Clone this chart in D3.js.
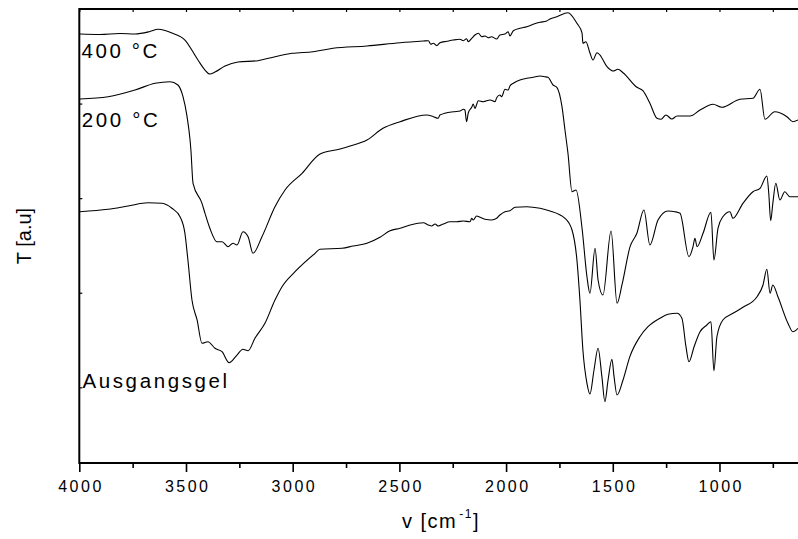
<!DOCTYPE html>
<html>
<head>
<meta charset="utf-8">
<script src="https://cdn.jsdelivr.net/npm/d3@7/dist/d3.min.js"></script>
<style>
  html, body { margin: 0; padding: 0; background: #fff; }
  svg { display: block; }
  text { font-family: "Liberation Sans", Arial, sans-serif; fill: #000; }
</style>
</head>
<body>
<svg id="chart" width="798" height="539"></svg>
<script>
// ---------- data (wavenumber in cm^-1, transmittance in arbitrary units) ----------
const seriesNames = ["400 °C", "200 °C", "Ausgangsgel"];

const wn400 = [3997,3903,3809,3739,3669,3631,3598,3566,3505,3444,3411,3388,3364,3317,3256,3163,3083,3003,2905,2811,2652,2497,
  2388,2364,2353,2341,2325,2310,2278,2247,2216,2200,2185,2177,2161,2146,2130,2114,2099,2083,2068,2044,2029,2005,1990,1982,1966,1935,1903,1873,1841,1810,1794,
  1762,1710,1668,1644,1640,1626,1607,1593,1574,1560,1527,1499,1476,1452,1387,1359,1326,1293,1274,1251,1223,1199,1138,1091,1030,989,904,843,810,787,741,684,656,632];
const t400  = [94.71,94.61,94.82,94.71,95.24,95.71,95.45,94.92,93.44,89.22,87.10,86.25,86.68,87.95,88.79,89.07,89.91,90.63,90.97,91.69,92.18,92.87,
  93.23,93.30,92.54,92.75,92.24,92.87,93.17,93.44,93.59,93.30,93.72,93.09,93.80,94.50,94.86,94.14,94.29,93.93,94.14,93.66,94.50,94.71,95.20,94.29,95.41,95.92,96.26,96.76,97.19,97.46,97.89,
  98.37,99.22,96.98,94.92,92.75,93.09,90.70,89.22,90.76,90.27,87.80,86.89,87.25,86.53,83.44,82.72,80.06,76.89,76.68,77.59,76.74,77.37,77.37,78.64,79.85,79.21,80.91,81.12,83.02,76.68,78.28,77.23,76.17,76.53];

const wn200 = [3997,3865,3739,3645,3575,3538,3514,3495,3481,3477,3467,3425,3411,3388,3355,3331,3303,3280,3261,3233,3209,3186,3144,3083,3036,2956,2872,2778,2731,2652,2577,2497,
  2372,2341,2318,2310,2247,2216,2200,2193,2185,2177,2161,2154,2146,2130,2107,2075,2052,2044,2029,2021,2005,1990,1982,1966,1935,1903,1873,1841,1818,
  1804,1780,1762,1738,1724,1710,1691,1672,1644,1621,1607,1583,1569,1546,1508,1480,1457,1419,1387,1354,1326,1288,1241,1209,1185,1143,1124,1115,1105,1077,1040,1026,1007,984,951,937,890,843,810,778,769,760,750,736,717,694,670,632];
const t200  = [80.97,81.45,82.87,84.29,84.63,83.93,81.45,77.23,72.30,70.18,63.14,58.91,56.80,53.63,50.79,50.79,49.74,50.46,50.10,52.91,51.85,48.34,51.85,58.19,61.73,65.26,69.34,70.40,71.03,72.30,74.77,76.17,
  77.59,77.23,76.89,77.59,78.28,78.43,78.79,78.64,76.17,78.07,79.21,79.91,79.00,80.61,80.40,80.76,80.40,81.24,81.81,81.45,83.02,82.87,83.72,84.29,84.99,85.35,85.56,85.83,85.68,
  85.56,83.93,83.44,79.34,74.41,69.49,61.37,61.73,53.63,43.39,39.88,49.40,42.70,39.52,53.06,37.77,41.64,49.74,52.57,57.50,50.10,55.38,57.29,57.14,56.80,47.62,49.74,51.51,49.74,52.57,57.01,46.92,53.63,56.08,57.14,55.74,58.91,61.37,62.08,64.69,61.03,55.23,58.91,63.14,59.61,61.37,60.31,60.31];

const wnGel = [3997,3865,3772,3678,3612,3566,3528,3505,3491,3472,3448,3425,3397,3364,3331,3298,3261,3233,3209,3177,3130,3083,3050,2989,2895,2872,2769,2717,2652,2591,2544,2497,2450,
  2388,2364,2349,2333,2318,2294,2263,2232,2200,2169,2161,2154,2138,2122,2099,2068,2044,2029,2005,1982,1958,1903,1841,1798,
  1724,1691,1668,1654,1640,1621,1607,1588,1569,1551,1537,1522,1504,1494,1480,1452,1420,1373,1335,1279,1241,1199,1176,1157,1143,1119,1091,1059,1040,1026,1012,984,937,890,824,796,778,763,750,726,679,656,632];
const tGel  = [57.14,57.64,58.34,59.04,58.91,57.86,56.08,52.57,46.92,38.46,34.24,29.31,29.65,28.25,27.53,25.21,26.83,28.04,27.74,30.37,33.54,38.46,41.28,44.45,48.34,49.19,49.40,49.88,50.46,51.72,53.12,53.63,54.32,
  54.81,54.32,54.11,54.54,54.11,54.54,55.02,55.02,55.17,55.02,55.74,55.38,56.23,55.95,55.53,55.38,55.74,56.44,57.14,57.35,58.07,58.19,57.86,57.35,
  55.74,53.27,46.92,38.46,27.89,20.85,18.59,23.66,28.25,22.25,16.96,21.55,25.93,22.25,18.38,21.55,26.48,30.70,32.82,34.60,35.44,35.65,34.60,28.59,25.42,28.59,31.76,33.18,33.88,23.51,30.70,34.24,35.65,36.92,39.16,41.64,44.96,39.88,41.64,39.16,33.54,31.76,32.48];

const xMajorTicks = [4000, 3500, 3000, 2500, 2000, 1500, 1000];
const xMinorTicks = [3750, 3250, 2750, 2250, 1750, 1250, 750];
const yTicks = [20, 40, 60, 80];

// label anchors in data units (wavenumber, T)
const labelWn = [3990, 3988, 3985];
const labelT  = [89.6, 75.15, 19.86];

// ---------- drawing ----------
(function () {
const svg = d3.select("#chart");
const mLeft = 79.3, mRight = 798, mTop = 9, mBottom = 463;

const x = d3.scaleLinear().domain([4000, 632]).range([mLeft, mRight]);
const y = d3.scaleLinear().domain([4, 100]).range([mBottom, mTop]);

svg.append("defs").append("clipPath").attr("id", "clip")
  .append("rect").attr("x", mLeft).attr("y", mTop).attr("width", mRight - mLeft).attr("height", mBottom - mTop);

const series = [
  d3.zip(wn400, t400),
  d3.zip(wn200, t200),
  d3.zip(wnGel, tGel)
];

const line = d3.line().x(d => x(d[0])).y(d => y(d[1])).curve(d3.curveMonotoneX);

svg.append("g").attr("clip-path", "url(#clip)")
  .selectAll("path").data(series).join("path")
  .attr("d", line)
  .attr("fill", "none")
  .attr("stroke", "#000")
  .attr("stroke-width", 1.1)
  .attr("stroke-linejoin", "round");

// bottom axis: major ticks with labels
const gB = svg.append("g").attr("transform", `translate(0,${mBottom})`)
  .call(d3.axisBottom(x).tickValues(xMajorTicks).tickSize(9).tickSizeOuter(0).tickPadding(9).tickFormat(d3.format("d")));
gB.select(".domain").remove();
gB.selectAll(".tick line").attr("stroke", "#000").attr("stroke-width", 1.6);
gB.selectAll(".tick text")
  .attr("font-size", 16)
  .attr("font-family", "Liberation Sans, Arial, sans-serif")
  .attr("letter-spacing", "2.5px")
  .attr("dx", "1.2px");

// bottom minor ticks
const gBm = svg.append("g").attr("transform", `translate(0,${mBottom})`)
  .call(d3.axisBottom(x).tickValues(xMinorTicks).tickSize(5).tickFormat(""));
gBm.select(".domain").remove();
gBm.selectAll(".tick line").attr("stroke", "#000").attr("stroke-width", 1.6);

// top ticks (inward)
const gT = svg.append("g").attr("transform", `translate(0,${mTop})`)
  .call(d3.axisBottom(x).tickValues(xMajorTicks.concat(xMinorTicks)).tickSize(3).tickFormat(""));
gT.select(".domain").remove();
gT.selectAll(".tick line").attr("stroke", "#000").attr("stroke-width", 1.2);

// left ticks (inward)
const gL = svg.append("g").attr("transform", `translate(${mLeft},0)`)
  .call(d3.axisRight(y).tickValues(yTicks).tickSize(3).tickFormat(""));
gL.select(".domain").remove();
gL.selectAll(".tick line").attr("stroke", "#000").attr("stroke-width", 1.2);

// spines
svg.append("line").attr("x1", mLeft).attr("x2", mRight).attr("y1", mBottom).attr("y2", mBottom)
  .attr("stroke", "#000").attr("stroke-width", 2);
svg.append("line").attr("x1", mLeft).attr("x2", mRight).attr("y1", mTop).attr("y2", mTop)
  .attr("stroke", "#000").attr("stroke-width", 2);
svg.append("line").attr("x1", mLeft).attr("x2", mLeft).attr("y1", mTop - 1).attr("y2", mBottom + 1)
  .attr("stroke", "#000").attr("stroke-width", 2);

// series labels
svg.append("g").selectAll("text").data(seriesNames).join("text")
  .attr("x", (d, i) => x(labelWn[i]))
  .attr("y", (d, i) => y(labelT[i]))
  .attr("font-size", 20.5)
  .attr("letter-spacing", "2.6px")
  .text(d => d);

// axis titles
const xt = svg.append("text")
  .attr("x", 441).attr("y", 528)
  .attr("text-anchor", "middle")
  .attr("font-size", 20)
  .attr("letter-spacing", "1.5px");
xt.append("tspan").text("v [cm");
xt.append("tspan").attr("font-size", 12).attr("dy", -10).attr("dx", 2).text("-1");
xt.append("tspan").attr("dy", 10).text("]");

svg.append("text")
  .attr("transform", "translate(31,236) rotate(-90)")
  .attr("text-anchor", "middle")
  .attr("font-size", 20)
  .text("T [a.u]");
})();
</script>
</body>
</html>
